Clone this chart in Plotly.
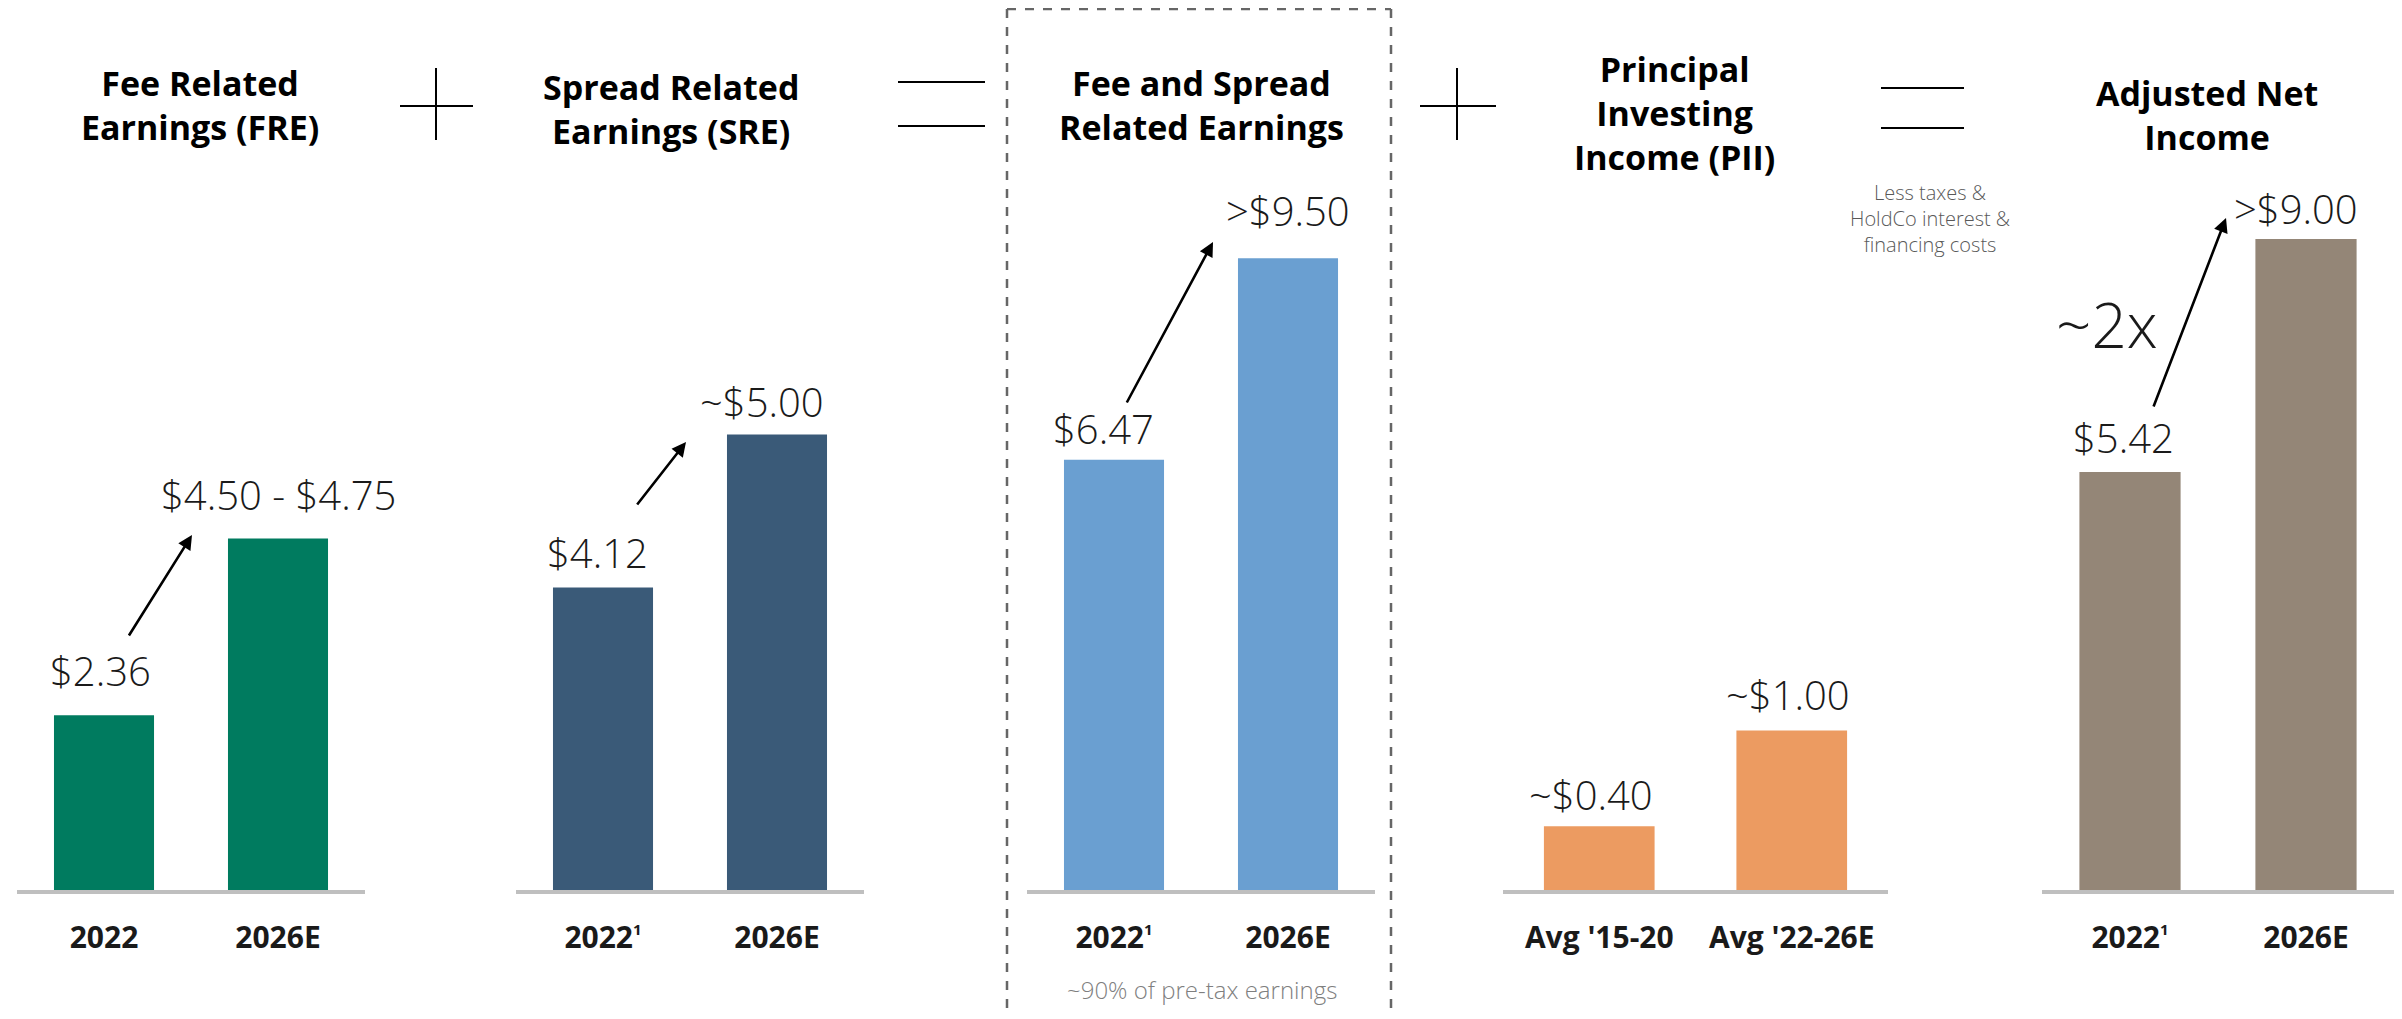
import plotly.graph_objects as go

# ---------------- data ----------------
SUP = "<sup><span style='font-size:15px'>1</span></sup>"

fre_cats = ["2022", "2026E"]
fre_vals = [2.36, 4.75]
fre_labels = ["$2.36", "$4.50 - $4.75"]

sre_cats = ["2022" + SUP, "2026E"]
sre_vals = [4.12, 5.00]
sre_labels = ["$4.12", "~$5.00"]

fsre_cats = ["2022" + SUP, "2026E"]
fsre_vals = [6.47, 9.50]
fsre_labels = ["$6.47", ">$9.50"]

pii_cats = ["Avg '15-20", "Avg '22-26E"]
pii_vals = [0.40, 1.00]
pii_labels = ["~$0.40", "~$1.00"]

ani_cats = ["2022" + SUP, "2026E"]
ani_vals = [5.42, 9.00]
ani_labels = ["$5.42", ">$9.00"]

titles = ["Fee Related<br>Earnings (FRE)",
          "Spread Related<br>Earnings (SRE)",
          "Fee and Spread<br>Related Earnings",
          "Principal<br>Investing<br>Income (PII)",
          "Adjusted Net<br>Income"]

# ---------------- presentation ----------------
# page has an 8px body margin: work in screen pixels and convert
OFF = 8
SW, SH = 2402, 1019
W, H = SW - 2 * OFF, SH - 2 * OFF

def px(x):
    return (x - OFF) / W

def py(y):
    return 1 - (y - OFF) / H

BASE = 890  # screen pixel y of baseline
panels = [
    dict(cats=fre_cats, vals=fre_vals, labels=fre_labels, color="#007B5F",
         xdom=(17, 365), floor=0.0, k=74.0,
         lab_shift=[(-4, 45), (0, 44)], title_xy=(200, 105)),
    dict(cats=sre_cats, vals=sre_vals, labels=sre_labels, color="#3A5A78",
         xdom=(516, 864), floor=2.38, k=173.9,
         lab_shift=[(-6, 35), (-15, 33)], title_xy=(671, 109)),
    dict(cats=fsre_cats, vals=fsre_vals, labels=fsre_labels, color="#6A9FD1",
         xdom=(1027, 1375), floor=0.0, k=66.5,
         lab_shift=[(-11, 31), (0, 48)], title_xy=(1201, 105)),
    dict(cats=pii_cats, vals=pii_vals, labels=pii_labels, color="#EC9B61",
         xdom=(1503, 1888), floor=0.0, k=159.5,
         lab_shift=[(-8, 32), (-4, 36)], title_xy=(1674, 113)),
    dict(cats=ani_cats, vals=ani_vals, labels=ani_labels, color="#948677",
         xdom=(2042, 2394), floor=-1.0, k=65.1,
         lab_shift=[(-7, 35), (-10, 31)], title_xy=(2207, 115)),
]

LIGHT = dict(family="Open Sans", size=40, color="#1A1A1A", weight=300)
BOLD = dict(family="Open Sans", size=34, color="#000000", weight=700)

fig = go.Figure()
layout = dict(width=W, height=H, margin=dict(l=0, r=0, t=0, b=0),
              paper_bgcolor="white", plot_bgcolor="white",
              showlegend=False, bargap=0.425)
annotations = []
shapes = []

for i, p in enumerate(panels, start=1):
    xa = "x" if i == 1 else f"x{i}"
    ya = "y" if i == 1 else f"y{i}"
    fig.add_trace(go.Bar(
        x=p["cats"], y=[v - p["floor"] for v in p["vals"]], base=p["floor"],
        marker=dict(color=p["color"], line=dict(width=0)),
        xaxis=xa, yaxis=ya, hoverinfo="skip"))
    layout["xaxis" if i == 1 else f"xaxis{i}"] = dict(
        type="category", categoryorder="array", categoryarray=p["cats"],
        range=[-0.5, len(p["cats"]) - 0.5],
        domain=[px(p["xdom"][0]), px(p["xdom"][1])], anchor=ya,
        showline=True, linecolor="#BFBFBF", linewidth=4,
        showgrid=False, zeroline=False,
        ticks="outside", ticklen=18, tickcolor="rgba(0,0,0,0)",
        tickfont=dict(family="Open Sans", size=30, color="#1A1A1A", weight=700),
        fixedrange=True)
    top = p["floor"] + (BASE - OFF) / p["k"]
    layout["yaxis" if i == 1 else f"yaxis{i}"] = dict(
        domain=[py(BASE), 1], anchor=xa, range=[p["floor"], top],
        visible=False, showgrid=False, zeroline=False, fixedrange=True)
    for j, (v, lab, (dx, dy)) in enumerate(zip(p["vals"], p["labels"], p["lab_shift"])):
        annotations.append(dict(xref=xa, yref=ya, x=j, y=v, text=lab,
                                showarrow=False, xanchor="center", yanchor="middle",
                                xshift=dx, yshift=dy, font=LIGHT))
    tx, ty = p["title_xy"]
    annotations.append(dict(xref="paper", yref="paper", x=px(tx), y=py(ty),
                            text=titles[i - 1], showarrow=False,
                            xanchor="center", yanchor="middle", font=BOLD))

# growth arrows (screen pixel positions: tail, head)
arrows = [((128, 637), (192, 535)),
          ((636, 506), (686, 442)),
          ((1126, 404), (1213, 242)),
          ((2153, 408), (2226, 218))]
for (tx, ty), (hx, hy) in arrows:
    annotations.append(dict(xref="paper", yref="paper", x=px(hx), y=py(hy),
                            ax=tx - hx, ay=ty - hy, axref="pixel", ayref="pixel",
                            text="", showarrow=True, arrowhead=2, arrowsize=1.1,
                            arrowwidth=2.6, arrowcolor="#000000", standoff=0,
                            startstandoff=0))

annotations.append(dict(xref="paper", yref="paper", x=px(2107), y=py(324),
                        text="~2x", showarrow=False, xanchor="center", yanchor="middle",
                        font=dict(family="Open Sans", size=62, color="#1A1A1A", weight=300)))
annotations.append(dict(xref="paper", yref="paper", x=px(1930), y=py(218),
                        text="Less taxes &<br>HoldCo interest &<br>financing costs",
                        showarrow=False, xanchor="center", yanchor="middle",
                        font=dict(family="Open Sans", size=20, color="#595959", weight=300)))
annotations.append(dict(xref="paper", yref="paper", x=px(1202), y=py(989),
                        text="~90% of pre-tax earnings",
                        showarrow=False, xanchor="center", yanchor="middle",
                        font=dict(family="Open Sans", size=24, color="#7F7F7F", weight=300)))

def line(x0, y0, x1, y1, color="#000000", width=2, dash="solid"):
    return dict(type="line", xref="paper", yref="paper",
                x0=px(x0), y0=py(y0), x1=px(x1), y1=py(y1),
                line=dict(color=color, width=width, dash=dash))

# operators
shapes += [line(436, 68, 436, 140), line(400, 106, 473, 106),
           line(898, 82, 985, 82), line(898, 126, 985, 126),
           line(1457, 68, 1457, 140), line(1420, 106, 1496, 106),
           line(1881, 88, 1964, 88), line(1881, 128, 1964, 128)]
# dashed highlight box
shapes += [line(1007, 9, 1007, 1019, "#666666", 2.5, "dash"),
           line(1007, 9, 1391, 9, "#666666", 2.5, "dash"),
           line(1391, 9, 1391, 1019, "#666666", 2.5, "dash")]

layout["annotations"] = annotations
layout["shapes"] = shapes
fig.update_layout(**layout)
fig.write_html("out.html")
